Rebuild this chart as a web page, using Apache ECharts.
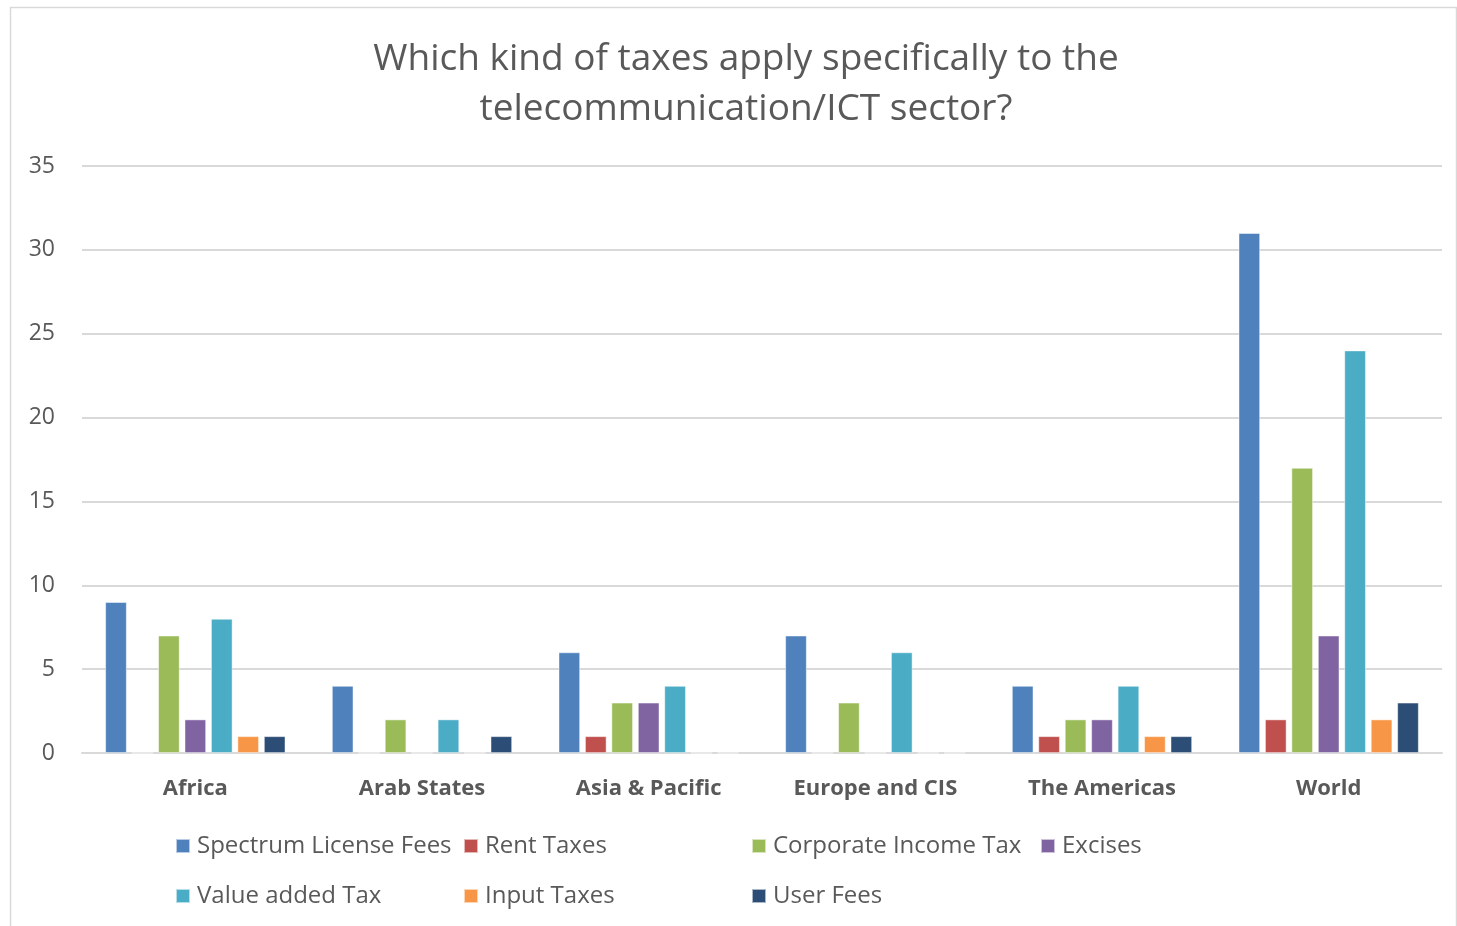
<!DOCTYPE html>
<html>
<head>
<meta charset="utf-8">
<script src="https://cdn.jsdelivr.net/npm/echarts@6/dist/echarts.min.js"></script>
<style>
html,body{margin:0;padding:0;background:#fff;}
#chart{width:1457px;height:926px;}
</style>
</head>
<body>
<div id="chart"></div>
<script>
const categories = ['Africa', 'Arab States', 'Asia & Pacific', 'Europe and CIS', 'The Americas', 'World'];
const seriesNames = ['Spectrum License Fees', 'Rent Taxes', 'Corporate Income Tax', 'Excises', 'Value added Tax', 'Input Taxes', 'User Fees'];
const spectrumLicenseFees = [9, 4, 6, 7, 4, 31];
const rentTaxes = [0, 0, 1, 0, 1, 2];
const corporateIncomeTax = [7, 2, 3, 3, 2, 17];
const excises = [2, 0, 3, 0, 2, 7];
const valueAddedTax = [8, 2, 4, 6, 4, 24];
const inputTaxes = [1, 0, 0, 0, 1, 2];
const userFees = [1, 1, 0, 0, 1, 3];
const yTicks = [0, 5, 10, 15, 20, 25, 30, 35];

const values = [spectrumLicenseFees, rentTaxes, corporateIncomeTax, excises, valueAddedTax, inputTaxes, userFees];
const colors = ['#4f81bd', '#c0504d', '#9bbb59', '#8064a2', '#4bacc6', '#f79646', '#2c4d75'];
const FONT = '"Open Sans", Lato, sans-serif';

const legendPos = [[175, 834], [463, 834], [751, 834], [1040, 834], [175, 884], [463, 884], [751, 884]];

const chart = echarts.init(document.getElementById('chart'));
chart.setOption({
  animation: false,
  color: colors,
  title: {
    text: 'Which kind of taxes apply specifically to the\ntelecommunication/ICT sector?',
    left: 741, top: 29, textAlign: 'center',
    textStyle: { fontFamily: FONT, fontSize: 37, fontWeight: 'normal', color: '#595959', lineHeight: 50 }
  },
  graphic: [{
    type: 'rect', shape: { x: 10.5, y: 7.5, width: 1446, height: 930 },
    style: { fill: null, stroke: '#d9d9d9', lineWidth: 1.5 }, silent: true, z: -1
  }],
  legend: seriesNames.map((n, i) => ({
    data: [n], left: legendPos[i][0], top: legendPos[i][1],
    itemWidth: 14, itemHeight: 14, itemGap: 0, padding: 0,
    icon: 'rect',
    textStyle: { fontFamily: FONT, fontSize: 24, color: '#595959', padding: [0, 0, 0, 2] }
  })),
  grid: { left: 82, right: 15, top: 166, bottom: 173 },
  xAxis: {
    type: 'category', data: categories,
    axisLine: { lineStyle: { color: '#d9d9d9', width: 2 } },
    axisTick: { show: false },
    axisLabel: { fontFamily: FONT, fontSize: 22, fontWeight: 'bold', color: '#595959', margin: 25 }
  },
  yAxis: {
    type: 'value', min: 0, max: 35, interval: 5,
    axisLine: { show: false }, axisTick: { show: false },
    splitLine: { lineStyle: { color: '#d9d9d9', width: 2 } },
    axisLabel: { fontFamily: FONT, fontSize: 23, color: '#595959', margin: 27,
      formatter: v => yTicks.includes(v) ? String(v) : '' }
  },
  series: seriesNames.map((n, i) => ({
    name: n, type: 'bar', data: values[i],
    barWidth: 21.5, barGap: '23%',
    itemStyle: { color: colors[i], borderColor: 'rgba(255,255,255,0.6)', borderWidth: 0.8 }
  }))
});
</script>
</body>
</html>
